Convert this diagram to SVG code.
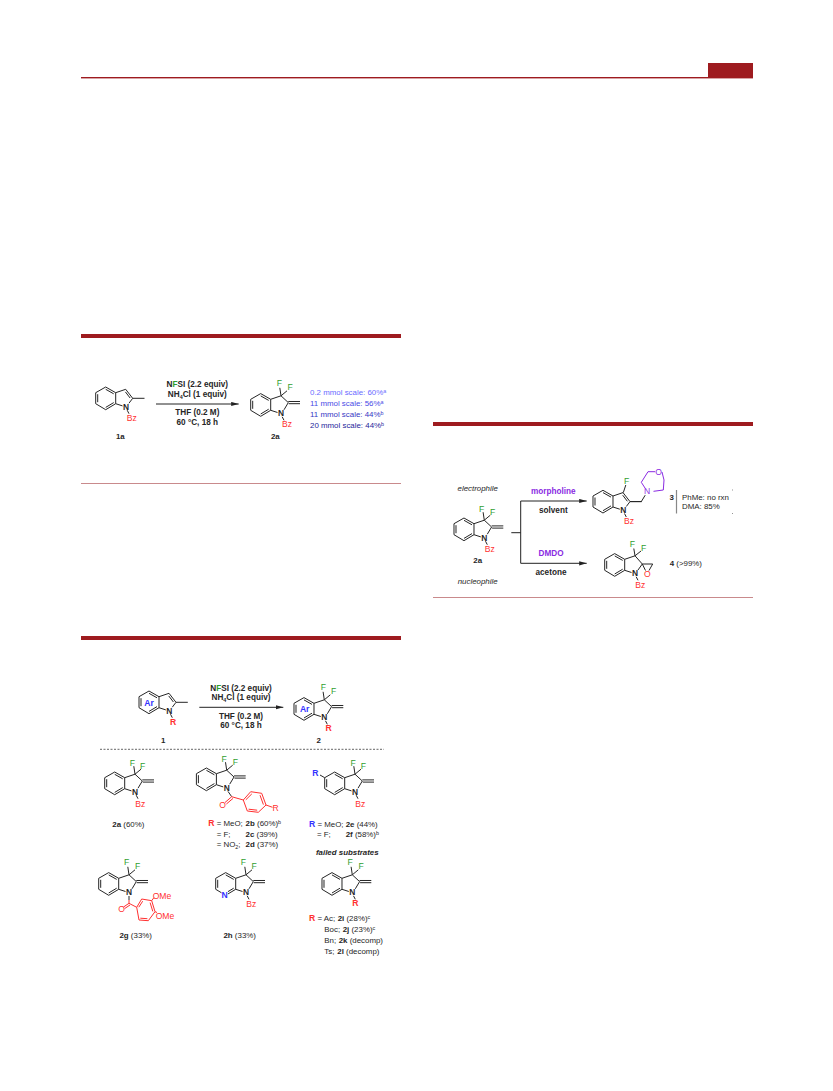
<svg xmlns="http://www.w3.org/2000/svg" width="833" height="1091" viewBox="0 0 833 1091">
<style>
text{font-family:"Liberation Sans",Arial,sans-serif;font-size:7.9px;fill:#262626}
.b{font-weight:700}
.m{text-anchor:middle}
.i{font-style:italic}
.g{fill:#2f9e2f;font-size:8.6px}
.r{fill:#ff3030;font-size:8.6px}
.u{fill:#3333ff;font-size:8.6px}
.p{fill:#8a2be2;font-size:8.6px}
.n{font-size:8.4px;font-weight:700}
.k{fill:#1a1a1a}
.a{font-size:8.2px}
.s{font-size:5.4px}
.bond{fill:none;stroke:#262626;stroke-width:1}
.rb{fill:none;stroke:#ff3030;stroke-width:1}
.pb{fill:none;stroke:#8a2be2;stroke-width:1}
.conn{fill:none;stroke:#222;stroke-width:1}
.bar{fill:#9e1b1f}
.thin{fill:#c98a8c}
</style>
<defs>
<marker id="ah" markerUnits="userSpaceOnUse" markerWidth="8" markerHeight="5" refX="7.5" refY="2.5" orient="auto"><path d="M0,.4L7.5,2.5L0,4.6Z" fill="#222"/></marker>
<path id="benz" class="bond" d="M-30.3,-14L-20.3,-19.7L-10.3,-14L-10.3,-3L-20.3,3L-30.3,-3ZM-28.3,-12.5V-4.5M-20.3,-17.4L-12.3,-12.9M-12.3,-4.1L-20.3,.7M-10.3,-3L-3.5,-.8"/>
<path id="gem" class="bond" d="M-10.3,-14L0,-17.5L7.3,-10.7L3,-3.5M7.3,-11.8H19M7.8,-9.6H19M0,-17.5L-1.2,-25.5M0,-17.5L6,-22.5"/>
<path id="ind" class="bond" d="M-10.3,-14L-.3,-17.4L6.7,-8.4L3,-3.5M-.6,-14.8L4.1,-8.7M6.7,-8.4H18.5"/>
<path id="nsub" class="bond" d="M1.2,3.5L3,7"/>
</defs>

<g id="page-header">
<rect class="bar" x="708" y="63" width="45" height="15"/>
<rect class="bar" x="81" y="77" width="672" height="1.4"/>
</g>

<g id="scheme-rules">
<rect class="bar" x="81" y="334" width="320" height="4"/>
<rect class="thin" x="81" y="483" width="320" height="1"/>
<rect class="bar" x="433" y="422" width="320" height="4"/>
<rect class="thin" x="433" y="597" width="320" height="1"/>
<rect class="bar" x="81" y="636" width="320" height="4"/>
</g>

<g id="connectors">
<path class="conn" marker-end="url(#ah)" d="M156,404H238.7"/>
<path class="conn" marker-end="url(#ah)" d="M199.3,707.3H283.3"/>
<path class="conn" style="stroke-dasharray:2 1.5;stroke-width:.7" d="M100,749.3H384"/>
<path class="conn" d="M520.7,501V563.3"/>
<path class="conn" marker-end="url(#ah)" d="M520.7,501H586.7"/>
<path class="conn" marker-end="url(#ah)" d="M520.7,563.3H586.7"/>
<path class="conn" d="M511.3,532.7H520.7"/>
</g>

<g id="cond-1">
<text class="b m a" x="197.3" y="387"><tspan class="k">N</tspan><tspan class="g a">F</tspan>SI (2.2 equiv)</text>
<text class="b m a" x="197.3" y="397">NH<tspan class="s" dy="1.5">4</tspan><tspan dy="-1.5">Cl (1 equiv)</tspan></text>
<text class="b m a" x="197.3" y="415.4">THF (0.2 M)</text>
<text class="b m a" x="197.3" y="424.8">60 °C, 18 h</text>
</g>

<g id="mol-1a">
<use href="#benz" x="126" y="406.7"/><use href="#ind" x="126" y="406.7"/><use href="#nsub" x="126" y="406.7"/>
<text class="m n" x="126" y="409.6">N</text>
<text class="m r" x="131.7" y="421">Bz</text>
<text class="m b" x="120.3" y="438.7">1a</text>
</g>

<g id="mol-2a-s1">
<use href="#benz" x="281" y="413.3"/><use href="#gem" x="281" y="413.3"/><use href="#nsub" x="281" y="413.3"/>
<text class="m n" x="281" y="416.2">N</text>
<text class="m g" x="279.3" y="386.3">F</text><text class="m g" x="290" y="390.3">F</text>
<text class="m r" x="287" y="427.3">Bz</text>
<text class="m b" x="275.3" y="438.7">2a</text>
</g>

<g id="yields-1">
<text x="310" y="395.4" style="fill:#6a6aff">0.2 mmol scale: 60%<tspan class="s" dy="-2.5" style="fill:#6a6aff">a</tspan></text>
<text x="310" y="406" style="fill:#4a4ae6">11 mmol scale: 56%<tspan class="s" dy="-2.5" style="fill:#4a4ae6">a</tspan></text>
<text x="310" y="417" style="fill:#3535c4">11 mmol scale: 44%<tspan class="s" dy="-2.5" style="fill:#3535c4">b</tspan></text>
<text x="310" y="428" style="fill:#26269a">20 mmol scale: 44%<tspan class="s" dy="-2.5" style="fill:#26269a">b</tspan></text>
</g>

<g id="mol-2a-s2">
<use href="#benz" x="484.3" y="537.7"/><use href="#gem" x="484.3" y="537.7"/><use href="#nsub" x="484.3" y="537.7"/>
<text class="m n" x="484.3" y="540.6">N</text>
<text class="m g" x="481.7" y="511.7">F</text><text class="m g" x="492.7" y="515.3">F</text>
<text class="m r" x="489.7" y="552">Bz</text>
<text class="m b" x="477.7" y="562.7">2a</text>
<text class="m i" x="477.7" y="491">electrophile</text>
<text class="m i" x="477.7" y="584">nucleophile</text>
</g>

<g id="cond-2">
<text class="m b p a" x="553.3" y="494">morpholine</text>
<text class="m b a" x="553.3" y="512.7">solvent</text>
<text class="m b p a" x="551" y="556.4">DMDO</text>
<text class="m b a" x="551" y="575.4">acetone</text>
</g>

<g id="mol-3">
<use href="#benz" x="623.3" y="510"/><use href="#ind" x="623.3" y="510"/><use href="#nsub" x="623.3" y="510"/>
<path class="bond" d="M623.3,492.6L625.8,485M630,501.6H641.3L645.2,495.2"/>
<path class="pb" d="M645,488L641.3,482.3L648,471.7H655.2M662,472L664,480L663.3,490L653.5,491.3"/>
<text class="m n" x="623.3" y="512.9">N</text>
<text class="m g" x="626.7" y="484.3">F</text>
<text class="m p" x="647" y="494.3">N</text>
<text class="m p" x="658.7" y="474.7">O</text>
<text class="m r" x="629" y="524.3">Bz</text>
<text class="b" x="669.5" y="499.5">3</text>
<path d="M676.5,490V513.5" fill="none" stroke="#888" stroke-width="1.2"/>
<path d="M732,490H733M732,513.5H733" fill="none" stroke="#666" stroke-width=".7"/>
<text x="682" y="499.5">PhMe: no rxn</text>
<text x="682" y="508.5">DMA:  85%</text>
</g>

<g id="mol-4">
<use href="#benz" x="635" y="573.3"/><use href="#nsub" x="635" y="573.3"/>
<path class="bond" d="M624.7,559.3L635,555.8L642.3,564L638,570M635,555.8L633.8,548.5M635,555.8L641,551M642.3,564H652.7L649,570.5M642.3,564L645.5,570.5"/>
<text class="m n" x="635" y="576.2">N</text>
<text class="m g" x="632.3" y="547">F</text><text class="m g" x="643.7" y="550.7">F</text>
<text class="m r" x="647.3" y="577">O</text>
<text class="m r" x="640.3" y="587.7">Bz</text>
<text x="669.7" y="566"><tspan class="b">4</tspan> (&gt;99%)</text>
</g>

<g id="mol-1">
<use href="#benz" x="169.3" y="710.7"/><use href="#ind" x="169.3" y="710.7"/><use href="#nsub" x="169.3" y="710.7"/>
<text class="m n" x="169.3" y="713.6">N</text>
<text class="m b u" x="149" y="705.5">Ar</text>
<text class="m b r" x="173" y="725.3">R</text>
<text class="m b" x="163.3" y="742.7">1</text>
</g>

<g id="cond-3">
<text class="b m a" x="241" y="691"><tspan class="k">N</tspan><tspan class="g a">F</tspan>SI (2.2 equiv)</text>
<text class="b m a" x="241" y="700.4">NH<tspan class="s" dy="1.5">4</tspan><tspan dy="-1.5">Cl (1 equiv)</tspan></text>
<text class="b m a" x="241" y="719.4">THF (0.2 M)</text>
<text class="b m a" x="241" y="728.4">60 °C, 18 h</text>
</g>

<g id="mol-2">
<use href="#benz" x="324.3" y="717.3"/><use href="#gem" x="324.3" y="717.3"/><use href="#nsub" x="324.3" y="717.3"/>
<text class="m n" x="324.3" y="720.2">N</text>
<text class="m g" x="323.3" y="690.3">F</text><text class="m g" x="333.7" y="694">F</text>
<text class="m b u" x="304.7" y="711.8">Ar</text>
<text class="m b r" x="328.7" y="731.3">R</text>
<text class="m b" x="318.7" y="742.7">2</text>
</g>

<g id="mol-2a">
<use href="#benz" x="135" y="791.7"/><use href="#gem" x="135" y="791.7"/><use href="#nsub" x="135" y="791.7"/>
<text class="m n" x="135" y="794.6">N</text>
<text class="m g" x="132.3" y="765.7">F</text><text class="m g" x="142.7" y="769.3">F</text>
<text class="m r" x="140.3" y="807">Bz</text>
<text class="m" x="128.3" y="826.7"><tspan class="b">2a</tspan> (60%)</text>
</g>

<g id="mol-2bcd">
<use href="#benz" x="226.7" y="787.7"/><use href="#gem" x="226.7" y="787.7"/>
<path class="bond" d="M228,791.4L231.7,796.7"/>
<path class="rb" d="M231.7,796.7L243.3,800M231.7,796.7L225,802.5M233,798.4L226.4,804M243.3,800L250.7,791.7L261.7,793.3L266,805L258.3,812.3L247.3,811ZM245.8,799.8L251.8,793.9M260,795.2L263.4,804.6M257.2,810.2L248.6,809.2M266,805L272.5,807.3"/>
<text class="m n" x="226.7" y="790.6">N</text>
<text class="m g" x="224" y="761.7">F</text><text class="m g" x="235.4" y="765.3">F</text>
<text class="m r" x="222.7" y="808">O</text>
<text class="m r" x="275.7" y="811.3">R</text>
<text x="208.3" y="826"><tspan class="b r">R</tspan> = MeO;</text>
<text x="245.6" y="826"><tspan class="b">2b</tspan> (60%)<tspan class="s" dy="-2.5">b</tspan></text>
<text x="216.7" y="836.7">= F;</text>
<text x="245.6" y="836.7"><tspan class="b">2c</tspan> (39%)</text>
<text x="216.7" y="847">= NO<tspan class="s" dy="1.5">2</tspan><tspan dy="-1.5">;</tspan></text>
<text x="245.6" y="847"><tspan class="b">2d</tspan> (37%)</text>
</g>

<g id="mol-2ef">
<use href="#benz" x="355" y="791.7"/><use href="#gem" x="355" y="791.7"/><use href="#nsub" x="355" y="791.7"/>
<path class="bond" d="M324.7,777.7L320,775"/>
<text class="m n" x="355" y="794.6">N</text>
<text class="m g" x="353" y="765.7">F</text><text class="m g" x="363.4" y="769.3">F</text>
<text class="m b u" x="315.3" y="775.6">R</text>
<text class="m r" x="360.3" y="807">Bz</text>
<text x="309" y="826.7"><tspan class="b u">R</tspan> = MeO;</text>
<text x="345.7" y="826.7"><tspan class="b">2e</tspan> (44%)</text>
<text x="317" y="837.2">= F;</text>
<text x="345.7" y="837.2"><tspan class="b">2f</tspan> (58%)<tspan class="s" dy="-2.5">b</tspan></text>
</g>

<g id="mol-2g">
<use href="#benz" x="129" y="892.3"/><use href="#gem" x="129" y="892.3"/>
<path class="bond" d="M129,896V900"/>
<path class="rb" d="M129,900L129,903.3L136.7,907.3M129,903.3L123.5,907M130,905L124.6,908.6M136.7,907.3L141.7,899L151.7,900.7L155,911.7L148.3,920.7L139,920ZM138.8,907.2L142.7,901.2M150.1,902.6L152.8,911.4M147.4,918.7L140.3,918.2M151.7,900.7L154,897.5M155,911.7L157,912.5"/>
<text class="m n" x="129" y="895.2">N</text>
<text class="m g" x="126.5" y="865.3">F</text><text class="m g" x="137.5" y="868.8">F</text>
<text class="m r" x="121.5" y="911.7">O</text>
<text class="r" x="152.7" y="899">OMe</text>
<text class="r" x="155.7" y="918.7">OMe</text>
<text class="m" x="135.7" y="937.7"><tspan class="b">2g</tspan> (33%)</text>
</g>

<g id="mol-2h">
<use href="#benz" x="246" y="892.3"/><use href="#gem" x="246" y="892.3"/><use href="#nsub" x="246" y="892.3"/>
<text class="m n" x="246" y="895.2">N</text>
<rect x="221.5" y="890.5" width="6.4" height="7.4" fill="#fff"/>
<text class="m b u" x="224.7" y="897.7">N</text>
<text class="m g" x="243.3" y="865.3">F</text><text class="m g" x="254" y="868.8">F</text>
<text class="m r" x="251.3" y="907">Bz</text>
<text class="m" x="239.7" y="937.7"><tspan class="b">2h</tspan> (33%)</text>
</g>

<g id="mol-2il">
<text class="b i m" x="347.3" y="855.3">failed substrates</text>
<use href="#benz" x="352.3" y="892.3"/><use href="#gem" x="352.3" y="892.3"/><use href="#nsub" x="352.3" y="892.3"/>
<text class="m n" x="352.3" y="895.2">N</text>
<text class="m g" x="350" y="865.3">F</text><text class="m g" x="361" y="868.8">F</text>
<text class="m b r" x="355.3" y="906.3">R</text>
<text x="309" y="921"><tspan class="b r">R</tspan> = Ac;</text>
<text x="337.7" y="921"><tspan class="b">2i</tspan> (28%)<tspan class="s" dy="-2.5">c</tspan></text>
<text x="324.3" y="932">Boc;</text>
<text x="342.7" y="932"><tspan class="b">2j</tspan> (23%)<tspan class="s" dy="-2.5">c</tspan></text>
<text x="324.3" y="943.4">Bn;</text>
<text x="338.7" y="943.4"><tspan class="b">2k</tspan> (decomp)</text>
<text x="324.3" y="954.4">Ts;</text>
<text x="337.3" y="954.4"><tspan class="b">2l</tspan> (decomp)</text>
</g>
</svg>
